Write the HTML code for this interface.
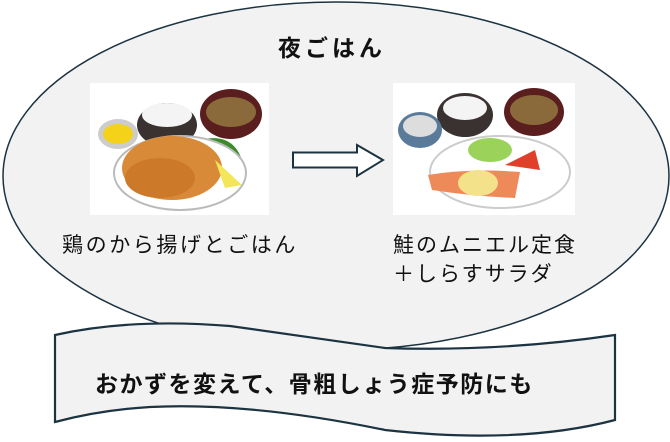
<!DOCTYPE html>
<html><head><meta charset="utf-8"><style>
html,body{margin:0;padding:0;background:#fff;}
body{width:670px;height:437px;overflow:hidden;}
svg text{font-family:"Liberation Sans","Noto Sans CJK JP",sans-serif;}
</style></head><body>
<svg width="670" height="437" viewBox="0 0 670 437" xmlns="http://www.w3.org/2000/svg">
<ellipse cx="336" cy="176" rx="333" ry="174" fill="#f2f2f2" stroke="#1c3342" stroke-width="1.5"/>
<text x="278" y="56" font-size="23" font-weight="bold" letter-spacing="4" fill="#111">夜ごはん</text>
<!-- left image -->
<rect x="90" y="83" width="179" height="132" fill="#fff"/>
<ellipse cx="167" cy="125" rx="30" ry="22" fill="#3a3230"/>
<ellipse cx="167" cy="115" rx="25" ry="12" fill="#f4f4f4"/>
<ellipse cx="231" cy="114" rx="31" ry="25" fill="#5a1e1e"/>
<ellipse cx="231" cy="112" rx="25" ry="15" fill="#8a6a3a"/>
<ellipse cx="118" cy="134" rx="20" ry="15" fill="#ccc"/>
<ellipse cx="118" cy="134" rx="15" ry="10" fill="#f5d21a"/>
<path d="M200 140 Q240 130 245 175 L230 175 Z" fill="#3d8a2a"/>
<ellipse cx="180" cy="173" rx="66" ry="37" fill="#fff" stroke="#bbb" stroke-width="2"/>
<ellipse cx="172" cy="168" rx="50" ry="32" fill="#d98a38"/>
<ellipse cx="160" cy="178" rx="35" ry="20" fill="#cc7a2a"/>
<path d="M215 160 L242 185 L225 188 Z" fill="#f3e65a"/>
<!-- arrow -->
<path d="M293 152.5 H357 V145 L383 160 L357 176 V167.5 H293 Z" fill="#fff" stroke="#1c3342" stroke-width="2"/>
<!-- right image -->
<rect x="393" y="83" width="182" height="132" fill="#fff"/>
<ellipse cx="465" cy="115" rx="28" ry="22" fill="#3a3230"/>
<ellipse cx="465" cy="108" rx="22" ry="12" fill="#f4f4f4"/>
<ellipse cx="534" cy="112" rx="30" ry="24" fill="#5a1e1e"/>
<ellipse cx="534" cy="110" rx="24" ry="15" fill="#8a6a3a"/>
<ellipse cx="420" cy="130" rx="22" ry="18" fill="#5a7a9a"/>
<ellipse cx="420" cy="126" rx="17" ry="11" fill="#ddd"/>
<ellipse cx="500" cy="172" rx="70" ry="36" fill="#fff" stroke="#ccc" stroke-width="2"/>
<ellipse cx="490" cy="150" rx="22" ry="12" fill="#9bd35a"/>
<path d="M505 165 L535 150 L540 170 Z" fill="#e0402a"/>
<path d="M428 175 Q470 168 520 172 L515 198 Q470 196 432 190 Z" fill="#ee8a5a"/>
<ellipse cx="478" cy="183" rx="20" ry="13" fill="#f3e28a"/>
<text x="62" y="252" font-size="21" letter-spacing="2.6" fill="#111">鶏のから揚げとごはん</text>
<text x="393" y="252" font-size="21" letter-spacing="2" fill="#111">鮭のムニエル定食</text>
<text x="393" y="281" font-size="21" letter-spacing="2" fill="#111">＋しらすサラダ</text>
<!-- banner -->
<path d="M55 335 Q130 318 230 326 Q330 340 385 348 Q500 352 615 335 L615 420 Q520 445 385 430 Q250 402 150 407 Q100 410 55 422 Z" fill="#f2f2f2" stroke="#1c3342" stroke-width="2.2"/>
<text x="95" y="392" font-size="23" font-weight="bold" letter-spacing="1.5" fill="#111">おかずを変えて、骨粗しょう症予防にも</text>
</svg>
</body></html>
